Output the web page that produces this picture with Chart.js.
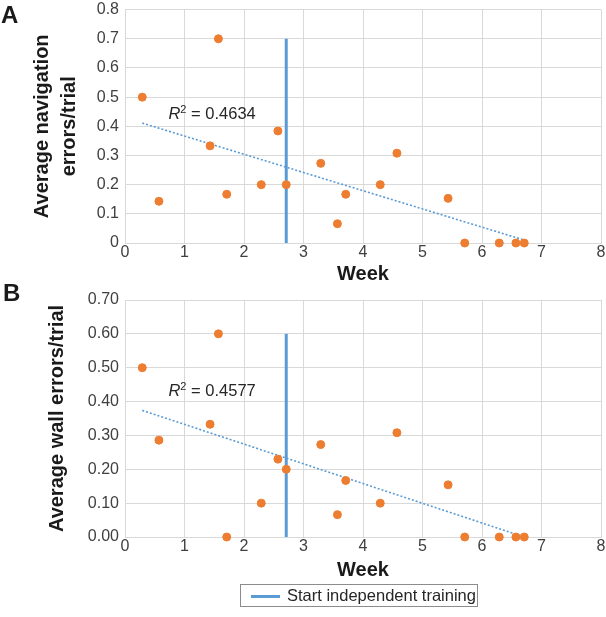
<!DOCTYPE html>
<html>
<head>
<meta charset="utf-8">
<script src="https://cdn.jsdelivr.net/npm/chart.js@4"></script>
<style>
  body { margin: 0; background: #fff; width: 606px; height: 617px; position: relative; overflow: hidden;
         font-family: "Liberation Sans", Arial, sans-serif; }
  .panel-label { position: absolute; font-weight: bold; font-size: 24px; color: #1a1a1a; }
  .chart-box { position: absolute; left: 0; width: 606px; }
  .legend { position: absolute; left: 240px; top: 584px; width: 236px; height: 21px; border: 1px solid #8c8c8c;
            font-size: 16.5px; color: #262626; line-height: 21px; }
  .legend .swatch { position: absolute; left: 10px; top: 10px; width: 29px; height: 3px; background: #5b9bd5; }
  .legend .txt { position: absolute; left: 46px; top: 0; white-space: nowrap; }
</style>
</head>
<body>
<div class="chart-box" style="top:-6px; height:296px;"><canvas id="chartA"></canvas></div>
<div class="chart-box" style="top:282px; height:300px;"><canvas id="chartB"></canvas></div>
<div class="panel-label" style="left:1px; top:1px;">A</div>
<div class="panel-label" style="left:3px; top:279px;">B</div>
<div class="legend"><span class="swatch"></span><span class="txt">Start independent training</span></div>

<script>
// Week of each session
const weeks = [0.29, 0.57, 1.43, 1.57, 1.71, 2.29, 2.57, 2.71, 3.29, 3.57, 3.71, 4.29, 4.57, 5.43, 5.71, 6.29, 6.57, 6.71];

// Panel A: average navigation errors per trial
const navErrors = [0.5, 0.143, 0.333, 0.7, 0.167, 0.2, 0.384, 0.2, 0.273, 0.066, 0.167, 0.2, 0.308, 0.153, 0, 0, 0, 0];
// Panel B: average wall errors per trial
const wallErrors = [0.5, 0.286, 0.333, 0.6, 0, 0.1, 0.23, 0.2, 0.273, 0.066, 0.167, 0.1, 0.308, 0.154, 0, 0, 0, 0];

// Linear trend lines (end points)
const trendWeeks = [0.29, 6.71];
const trendNav = [0.411, 0.01];
const trendWall = [0.374, 0.0];
const r2Nav = '0.4634';
const r2Wall = '0.4577';
const r2Pos = { x: 0.73, yA: 0.44, yB: 0.429 };

// Start of independent training
const startWeek = 2.71;
const startLineNav = [0, 0.7];
const startLineWall = [0, 0.6];

const xTicks = [0, 1, 2, 3, 4, 5, 6, 7, 8];

const FONT = '"Liberation Sans", Arial, sans-serif';
const BLUE = '#5b9bd5';
const ORANGE = '#ed7d31';
const GRID = '#d9d9d9';

// Draws the "R² = ..." label at a data position
const r2Plugin = {
    id: 'r2Label',
    afterDatasetsDraw(chart, args, opts) {
        const { ctx } = chart;
        const xs = chart.scales.x, ys = chart.scales.y;
        let px = xs.getPixelForValue(opts.x);
        const py = ys.getPixelForValue(opts.y);
        ctx.save();
        ctx.fillStyle = '#262626';
        ctx.textBaseline = 'middle';
        ctx.textAlign = 'left';
        ctx.font = 'italic 16.5px ' + FONT;
        ctx.fillText('R', px, py);
        px += ctx.measureText('R').width;
        ctx.font = '11px ' + FONT;
        ctx.fillText('2', px, py - 5);
        px += ctx.measureText('2').width;
        ctx.font = '16.5px ' + FONT;
        ctx.fillText(' = ' + opts.value, px, py);
        ctx.restore();
    }
};

function makeChart(id, values, trend, startLine, cfg) {
    const ctx = document.getElementById(id).getContext('2d');
    return new Chart(ctx, {
        type: 'scatter',
        data: {
            datasets: [
                {
                    label: 'data',
                    data: weeks.map((w, i) => ({ x: w, y: values[i] })),
                    backgroundColor: ORANGE,
                    borderColor: ORANGE,
                    pointRadius: 4,
                    pointHoverRadius: 4,
                    clip: false,
                },
                {
                    label: 'Start independent training',
                    data: startLine.map(v => ({ x: startWeek, y: v })),
                    showLine: true,
                    borderColor: BLUE,
                    borderWidth: 3,
                    pointRadius: 0,
                },
                {
                    label: 'trend',
                    data: trendWeeks.map((w, i) => ({ x: w, y: trend[i] })),
                    showLine: true,
                    borderColor: BLUE,
                    borderWidth: 1.6,
                    borderDash: [2, 2],
                    pointRadius: 0,
                },
            ]
        },
        options: {
            responsive: true,
            maintainAspectRatio: false,
            animation: false,
            layout: { padding: { top: cfg.padTop, right: 4, left: 0, bottom: 0 } },
            scales: {
                x: {
                    type: 'linear',
                    min: 0,
                    max: 8,
                    afterBuildTicks: s => { s.ticks = xTicks.map(v => ({ value: v })); },
                    afterFit: s => { s.height = cfg.xHeight; },
                    grid: { color: GRID, drawTicks: false },
                    border: { color: GRID },
                    ticks: { color: '#404040', font: { family: FONT, size: 16 }, padding: 0 },
                    title: {
                        display: true,
                        text: 'Week',
                        color: '#1a1a1a',
                        font: { family: FONT, size: 20, weight: 'bold', lineHeight: 1.2 },
                        padding: { top: 0, bottom: cfg.xTitlePad }
                    }
                },
                y: {
                    min: 0,
                    max: cfg.yMax,
                    afterBuildTicks: s => { s.ticks = cfg.yTicks.map(v => ({ value: v })); },
                    afterFit: s => { s.width = 125; },
                    grid: { color: GRID, drawTicks: false },
                    border: { color: GRID },
                    ticks: {
                        color: '#404040',
                        font: { family: FONT, size: 16 },
                        padding: 6,
                        callback: v => cfg.fmt(v)
                    },
                    title: {
                        display: true,
                        text: cfg.yTitle,
                        color: '#1a1a1a',
                        font: { family: FONT, size: 20, weight: 'bold', lineHeight: 1.35 },
                        padding: { top: cfg.yTitlePad, bottom: 0 }
                    }
                }
            },
            plugins: {
                legend: { display: false },
                tooltip: { enabled: false },
                r2Label: cfg.r2
            }
        },
        plugins: [r2Plugin]
    });
}

const navTicks = [0, 0.1, 0.2, 0.3, 0.4, 0.5, 0.6, 0.7, 0.8];
const wallTicks = [0, 0.1, 0.2, 0.3, 0.4, 0.5, 0.6, 0.7];

makeChart('chartA', navErrors, trendNav, startLineNav, {
    padTop: 0, xHeight: 47, xTitlePad: 3.5, yMax: 0.8, yTicks: navTicks,
    fmt: v => (v === 0 ? '0' : v.toFixed(1)),
    yTitle: ['Average navigation', 'errors/trial'], yTitlePad: 29,
    r2: { x: r2Pos.x, y: r2Pos.yA, value: r2Nav }
});

makeChart('chartB', wallErrors, trendWall, startLineWall, {
    padTop: 18, xHeight: 45, xTitlePad: 0, yMax: 0.7, yTicks: wallTicks,
    fmt: v => v.toFixed(2),
    yTitle: 'Average wall errors/trial', yTitlePad: 44,
    r2: { x: r2Pos.x, y: r2Pos.yB, value: r2Wall }
});
</script>
</body>
</html>
